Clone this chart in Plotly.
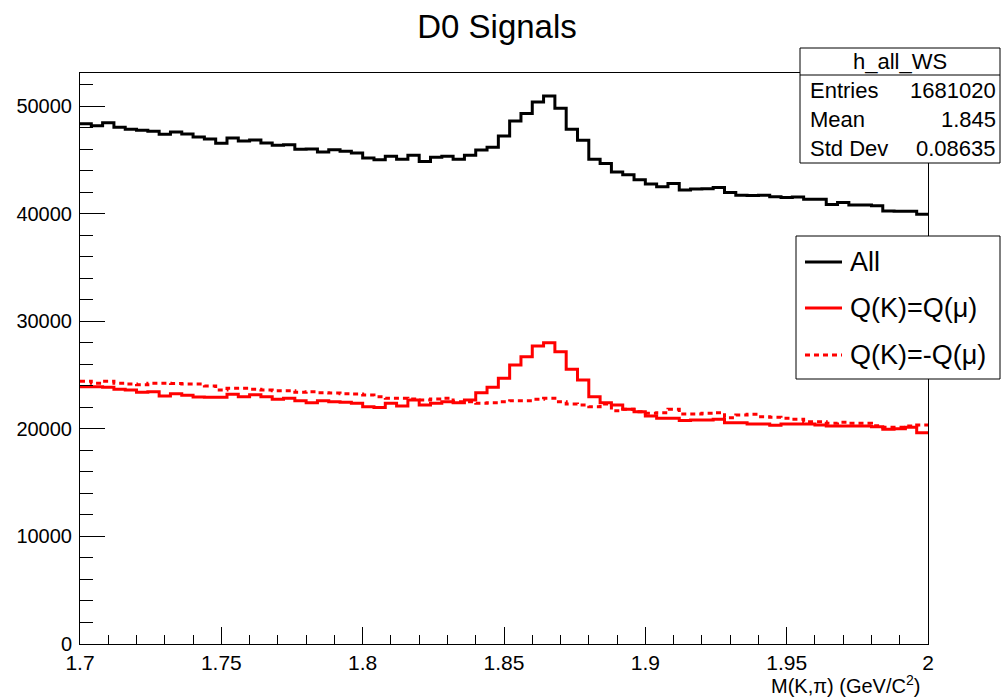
import numpy as np
import plotly.graph_objects as go

# ---- data (75 bins, 1.7 - 2.0 GeV) ----
x_min, x_max, n_bins = 1.7, 2.0, 75

all_counts = [
    48350, 48170, 48450, 48020, 47830, 47740, 47650, 47370, 47590, 47400,
    47120, 46930, 46530, 47030, 46750, 46840, 46560, 46350, 46400, 45970,
    46000, 45730, 45940, 45790, 45630, 45170, 45010, 45330, 45060, 45420,
    44850, 45240, 45340, 45060, 45420, 45920, 46170, 47220, 48610, 49300,
    50380, 50930, 49800, 47850, 46810, 45060, 44650, 43860, 43620, 43140,
    42760, 42500, 42800, 42200, 42290, 42300, 42420, 41960, 41700, 41680,
    41710, 41570, 41500, 41550, 41340, 41340, 40850, 41030, 40810, 40800,
    40740, 40250, 40220, 40220, 39950,
]

same_sign = [
    23910, 23910, 23860, 23670, 23610, 23390, 23450, 23050, 23260, 23110,
    22960, 22930, 22930, 23210, 22990, 23170, 22990, 22740, 22840, 22610,
    22430, 22610, 22520, 22460, 22370, 22050, 21980, 22370, 22120, 22680,
    22210, 22370, 22520, 22430, 22680, 23360, 23860, 24690, 25930, 26700,
    27700, 28000, 27170, 25530, 24540, 22990, 22430, 22210, 21810, 21590,
    21200, 20980, 20980, 20760, 20820, 20820, 20880, 20570, 20570, 20450,
    20450, 20330, 20450, 20450, 20450, 20350, 20260, 20260, 20260, 20260,
    20200, 19950, 20010, 20140, 19640,
]

opp_sign = [
    24410, 24230, 24410, 24230, 24160, 24100, 24230, 24230, 24200, 24160,
    24160, 23980, 23610, 23760, 23760, 23670, 23610, 23540, 23540, 23390,
    23450, 23360, 23330, 23260, 23230, 23140, 22990, 22840, 22840, 22770,
    22680, 22770, 22840, 22520, 22520, 22370, 22430, 22520, 22610, 22610,
    22740, 22840, 22520, 22310, 22210, 22050, 22310, 21680, 21810, 21590,
    21440, 21500, 21810, 21380, 21380, 21440, 21500, 21030, 21280, 21350,
    21130, 21070, 20980, 20880, 20660, 20660, 20510, 20600, 20510, 20510,
    20290, 20140, 20140, 20260, 20350,
]

x_tick_vals = [1.7, 1.75, 1.8, 1.85, 1.9, 1.95, 2.0]
x_tick_text = ["1.7", "1.75", "1.8", "1.85", "1.9", "1.95", "2"]
y_tick_vals = [0, 10000, 20000, 30000, 40000, 50000]
y_tick_text = ["0", "10000", "20000", "30000", "40000", "50000"]

stats_title = "h_all_WS"
stats_rows = [("Entries", "1681020"), ("Mean", "1.845"), ("Std Dev", "0.08635")]
legend_labels = ["All", "Q(K)=Q(μ)", "Q(K)=-Q(μ)"]

# ---- figure ----
W, H = 1002, 698
L, R, T, B = 80, 928, 73, 644
FONT = "Liberation Sans, Arial, Helvetica, sans-serif"

edges = np.linspace(x_min, x_max, n_bins + 1)


def step(vals):
    return list(edges), list(vals) + [vals[-1]]


fig = go.Figure()
styles = [
    (all_counts, "black", "solid"),
    (same_sign, "red", "solid"),
    (opp_sign, "red", "5px,4px"),
]
for vals, col, dash in styles:
    xs, ys = step(vals)
    fig.add_trace(go.Scatter(
        x=xs, y=ys, mode="lines", line=dict(color=col, width=3, dash=dash, shape="hv"),
        showlegend=False, hoverinfo="skip",
    ))

ymax = (B - T) / 107.6 * 10000

fig.update_layout(
    width=W, height=H,
    margin=dict(l=L, r=W - R, t=T, b=H - B),
    paper_bgcolor="white", plot_bgcolor="white",
    font=dict(family=FONT, color="black"),
    title=dict(text="D0 Signals", x=0.496, xanchor="center", y=1 - 26 / H, yanchor="middle",
               yref="container", font=dict(size=33, family=FONT, color="black")),
    showlegend=False,
)
fig.update_xaxes(
    range=[x_min, x_max], showgrid=False, zeroline=False,
    showline=True, linecolor="black", linewidth=1, mirror=True,
    ticks="inside", ticklen=17, tickcolor="black", tickwidth=1,
    tickvals=x_tick_vals, ticktext=x_tick_text, tickfont=dict(size=21, family=FONT),
    minor=dict(ticks="inside", ticklen=9, tickcolor="black", dtick=0.01, tick0=1.7, showgrid=False),
)
fig.update_yaxes(
    range=[0, ymax], showgrid=False, zeroline=False,
    showline=True, linecolor="black", linewidth=1, mirror=True,
    ticks="inside", ticklen=25, tickcolor="black", tickwidth=1,
    tickvals=y_tick_vals, ticktext=y_tick_text, tickfont=dict(size=20, family=FONT),
    ticklabelstandoff=3,
    minor=dict(ticks="inside", ticklen=13, tickcolor="black", dtick=2000, tick0=0, showgrid=False),
)


# "paper" coordinates in plotly are relative to the plot area
def px(xp):
    return (xp - L) / (R - L)


def py(yp):
    return (B - yp) / (B - T)


shapes = []
annotations = []

# stats box
sx0, sx1, sy0, sy1 = 800, 1000, 48, 163
shapes.append(dict(type="rect", xref="paper", yref="paper", x0=px(sx0), x1=px(sx1),
                   y0=py(sy1), y1=py(sy0), line=dict(color="black", width=1),
                   fillcolor="white", layer="above"))
shapes.append(dict(type="line", xref="paper", yref="paper", x0=px(sx0), x1=px(sx1),
                   y0=py(75), y1=py(75), line=dict(color="black", width=1), layer="above"))
annotations.append(dict(text=stats_title, xref="paper", yref="paper", x=px(900), y=py(61),
                        xanchor="center", yanchor="middle", showarrow=False,
                        font=dict(size=22, family=FONT, color="black")))
for i, (k, v) in enumerate(stats_rows):
    yy = 91 + i * 28.5
    annotations.append(dict(text=k, xref="paper", yref="paper", x=px(808), y=py(yy),
                            xanchor="left", yanchor="middle", showarrow=False,
                            font=dict(size=22, family=FONT, color="black")))
    annotations.append(dict(text=v, xref="paper", yref="paper", x=px(998), y=py(yy),
                            xanchor="right", yanchor="middle", showarrow=False,
                            font=dict(size=22, family=FONT, color="black")))

# legend box
lx0, lx1, ly0, ly1 = 796, 1000, 236, 379
shapes.append(dict(type="rect", xref="paper", yref="paper", x0=px(lx0), x1=px(lx1),
                   y0=py(ly1), y1=py(ly0), line=dict(color="black", width=1),
                   fillcolor="white", layer="above"))
leg_y = [262, 308, 355]
for (vals, col, dash), lab, yy in zip(styles, legend_labels, leg_y):
    shapes.append(dict(type="line", xref="paper", yref="paper", x0=px(805), x1=px(842),
                       y0=py(yy), y1=py(yy), line=dict(color=col, width=3, dash=dash),
                       layer="above"))
    annotations.append(dict(text=lab, xref="paper", yref="paper", x=px(848), y=py(yy),
                            xanchor="left", yanchor="middle", showarrow=False,
                            font=dict(size=27, family=FONT, color="black")))

# x-axis title
annotations.append(dict(text="M(K,π) (GeV/C<sup>2</sup>)", xref="paper", yref="paper",
                        x=px(922), y=py(684), xanchor="right", yanchor="middle",
                        showarrow=False, font=dict(size=20, family=FONT, color="black")))

fig.update_layout(shapes=shapes, annotations=annotations)
fig.write_html("out.html")
